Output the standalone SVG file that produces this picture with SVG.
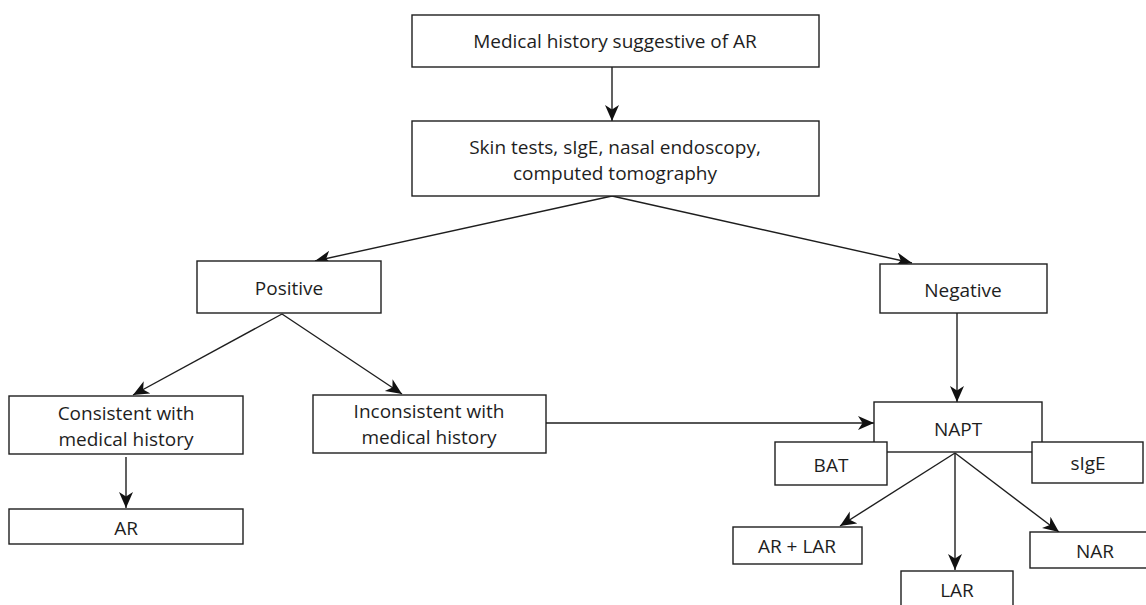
<svg xmlns="http://www.w3.org/2000/svg" width="1146" height="605" viewBox="0 0 1146 605">
<style>
.box{fill:#fff;stroke:#1e1e1e;stroke-width:1.4}
.t{font-family:"Open Sans",Lato,sans-serif;font-size:19px;fill:#1e1e1e;text-anchor:middle}
.c{fill:none;stroke:#1e1e1e;stroke-width:1.4}
</style>
<defs>
<marker id="ah" markerUnits="userSpaceOnUse" markerWidth="20" markerHeight="16" refX="16" refY="7" orient="auto">
<path d="M0,0 L16,7 L0,14 L4.5,7 z" fill="#111"/>
</marker>
</defs>
<rect width="1146" height="605" fill="#fff"/>
<g id="connectors">
<line class="c" x1="612" y1="67" x2="612" y2="121" marker-end="url(#ah)"/>
<line class="c" x1="612" y1="196" x2="315" y2="261" marker-end="url(#ah)"/>
<line class="c" x1="612" y1="196" x2="912" y2="263" marker-end="url(#ah)"/>
<line class="c" x1="282" y1="314" x2="133" y2="395" marker-end="url(#ah)"/>
<line class="c" x1="282" y1="314" x2="402" y2="394" marker-end="url(#ah)"/>
<line class="c" x1="126" y1="457" x2="126" y2="508" marker-end="url(#ah)"/>
<line class="c" x1="546" y1="423" x2="874" y2="423" marker-end="url(#ah)"/>
<line class="c" x1="957" y1="313" x2="957" y2="402" marker-end="url(#ah)"/>
<line class="c" x1="955" y1="453" x2="840" y2="526" marker-end="url(#ah)"/>
<line class="c" x1="955" y1="453" x2="955" y2="570" marker-end="url(#ah)"/>
<line class="c" x1="955" y1="453" x2="1059" y2="532" marker-end="url(#ah)"/>
</g>
<g id="n1"><rect class="box" x="412" y="15" width="407" height="52"/><text class="t" x="615" y="48">Medical history suggestive of AR</text></g>
<g id="n2"><rect class="box" x="412" y="121" width="407" height="75"/><text class="t" x="615" y="154">Skin tests, sIgE, nasal endoscopy,</text><text class="t" x="615" y="180">computed tomography</text></g>
<g id="positive"><rect class="box" x="197" y="261" width="184" height="52"/><text class="t" x="289" y="295">Positive</text></g>
<g id="negative"><rect class="box" x="880" y="264" width="167" height="49"/><text class="t" x="963" y="297">Negative</text></g>
<g id="consistent"><rect class="box" x="9" y="396" width="234" height="58"/><text class="t" x="126" y="420">Consistent with</text><text class="t" x="126" y="446">medical history</text></g>
<g id="ar"><rect class="box" x="9" y="509" width="234" height="35"/><text class="t" x="126" y="535">AR</text></g>
<g id="inconsistent"><rect class="box" x="313" y="395" width="233" height="58"/><text class="t" x="429" y="418">Inconsistent with</text><text class="t" x="429" y="444">medical history</text></g>
<g id="napt"><rect class="box" x="874" y="402" width="168" height="50"/><text class="t" x="958" y="436">NAPT</text></g>
<g id="bat"><rect class="box" x="775" y="442" width="112" height="43"/><text class="t" x="831" y="472">BAT</text></g>
<g id="sige"><rect class="box" x="1032" y="442" width="111" height="41"/><text class="t" x="1088" y="470">sIgE</text></g>
<g id="arlar"><rect class="box" x="733" y="527" width="129" height="37"/><text class="t" x="797" y="553">AR + LAR</text></g>
<g id="lar"><rect class="box" x="901" y="571" width="112" height="40"/><text class="t" x="957" y="597">LAR</text></g>
<g id="nar"><rect class="box" x="1030" y="532" width="130" height="36"/><text class="t" x="1095" y="558">NAR</text></g>
</svg>
